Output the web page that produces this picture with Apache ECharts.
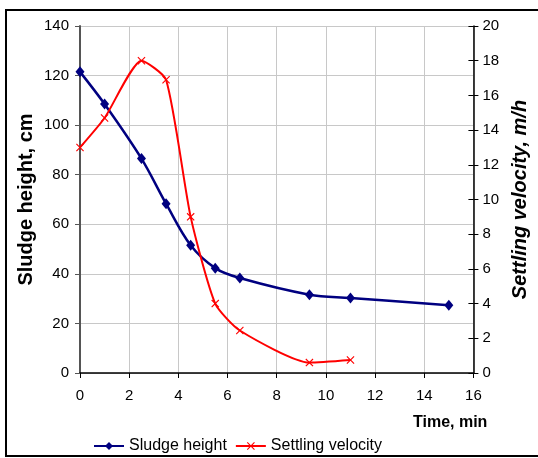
<!DOCTYPE html>
<html>
<head>
<meta charset="utf-8">
<script src="https://cdn.jsdelivr.net/npm/echarts@6/dist/echarts.min.js"></script>
<style>
  html, body { margin: 0; padding: 0; background: #fff; }
  #chart { width: 538px; height: 458px; }
</style>
</head>
<body>
<div id="chart"></div>
<script>
// time, min
const timeValues = [0, 1, 2.5, 3.5, 4.5, 5.5, 6.5, 9.33, 11, 15];
// sludge height, cm (left axis)
const sludgeHeight = [121.5, 108.5, 86.5, 68.3, 51.5, 42.3, 38.3, 31.6, 30.3, 27.3];
// settling velocity, m/h (right axis) - no reading at 15 min
const velocityTimes = [0, 1, 2.5, 3.5, 4.5, 5.5, 6.5, 9.33, 11];
const settlingVelocity = [13.0, 14.7, 18.0, 16.9, 9.0, 4.0, 2.45, 0.6, 0.75];

const font = '"Liberation Sans", Arial, sans-serif';
const crossIcon = 'path://M0,1L1,0L5,4L9,0L10,1L6,5L10,9L9,10L5,6L1,10L0,9L4,5Z';

const chart = echarts.init(document.getElementById('chart'));

const option = {
  animation: false,
  backgroundColor: '#fff',
  grid: { left: 80, right: 60, top: 26, bottom: 85 },
  graphic: [
    {
      type: 'rect',
      shape: { x: 6, y: 10, width: 545, height: 446 },
      style: { fill: 'none', stroke: '#000', lineWidth: 2 },
      z: -1
    },
    {
      type: 'text',
      left: 413,
      top: 415,
      style: { text: 'Time, min', font: 'bold 16px ' + font, fill: '#000' }
    }
  ],
  legend: {
    left: 88,
    top: 433,
    itemWidth: 30,
    itemHeight: 10,
    itemGap: 8,
    textStyle: { fontFamily: font, fontSize: 16, color: '#000' },
    data: ['Sludge height', 'Settling velocity']
  },
  xAxis: {
    type: 'value',
    min: 0,
    max: 16,
    interval: 2,
    axisLine: { onZero: false, lineStyle: { color: '#000', width: 1.5 } },
    axisTick: { show: true, length: 5, lineStyle: { color: '#000' } },
    axisLabel: { fontFamily: font, fontSize: 15, color: '#000', margin: 15 },
    splitLine: { show: true, lineStyle: { color: '#c8c8c8', width: 1 } }
  },
  yAxis: [
    {
      type: 'value',
      min: 0,
      max: 140,
      interval: 20,
      name: 'Sludge height, cm',
      nameLocation: 'middle',
      nameGap: 44,
      nameMoveOverlap: false,
      nameTextStyle: { fontFamily: font, fontWeight: 'bold', fontSize: 20, color: '#000' },
      axisLine: { show: true, lineStyle: { color: '#555', width: 2 } },
      axisTick: { show: true, length: 5, lineStyle: { color: '#555' } },
      axisLabel: { fontFamily: font, fontSize: 15, color: '#000', margin: 11 },
      splitLine: { show: true, lineStyle: { color: '#c8c8c8', width: 1 } }
    },
    {
      type: 'value',
      min: 0,
      max: 20,
      interval: 2,
      position: 'right',
      name: 'Settling velocity, m/h',
      nameLocation: 'middle',
      nameGap: 36,
      nameTextStyle: { fontFamily: font, fontWeight: 'bold', fontStyle: 'italic', fontSize: 20, color: '#000' },
      axisLine: { show: true, lineStyle: { color: '#000', width: 1.5 } },
      axisTick: { show: true, length: 5, lineStyle: { color: '#000' } },
      axisLabel: { fontFamily: font, fontSize: 15, color: '#000', margin: 9 },
      splitLine: { show: false }
    },
    {
      // inner half of the crossing ticks on the right axis
      type: 'value',
      min: 0,
      max: 20,
      interval: 2,
      position: 'right',
      axisLine: { show: false },
      axisTick: { show: true, inside: true, length: 5, lineStyle: { color: '#000' } },
      axisLabel: { show: false },
      splitLine: { show: false }
    }
  ],
  series: [
    {
      name: 'Sludge height',
      type: 'line',
      yAxisIndex: 0,
      smooth: 0.35,
      symbol: 'diamond',
      symbolSize: [9, 11],
      color: '#000080',
      lineStyle: { width: 2.5, color: '#000080' },
      itemStyle: { color: '#000080' },
      data: timeValues.map((t, i) => [t, sludgeHeight[i]])
    },
    {
      name: 'Settling velocity',
      type: 'line',
      yAxisIndex: 1,
      smooth: 0.2,
      symbol: crossIcon,
      symbolSize: 8,
      color: '#ff0000',
      lineStyle: { width: 2, color: '#ff0000' },
      itemStyle: { color: '#ff0000' },
      data: velocityTimes.map((t, i) => [t, settlingVelocity[i]])
    }
  ]
};

chart.setOption(option);
</script>
</body>
</html>
